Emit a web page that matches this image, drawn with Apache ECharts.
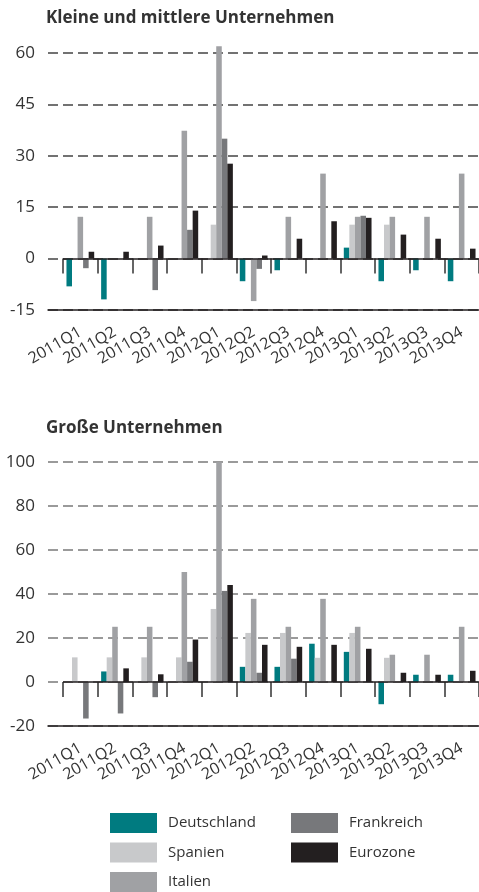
<!DOCTYPE html>
<html lang="de">
  <head>
    <meta charset="UTF-8" />
    <title>Kreditbedingungen</title>
    <style>
      html, body { margin: 0; padding: 0; background: #fff; }
      #chart { width: 479px; height: 892px; }
    </style>
  </head>
  <body>
    <div id="chart"></div>

    <script src="https://cdn.jsdelivr.net/npm/echarts@6/dist/echarts.min.js"></script>
    <script>
      const quarters = ["2011Q1", "2011Q2", "2011Q3", "2011Q4", "2012Q1", "2012Q2",
        "2012Q3", "2012Q4", "2013Q1", "2013Q2", "2013Q3", "2013Q4"];
      const countries = ["Deutschland", "Spanien", "Italien", "Frankreich", "Eurozone"];
      const colors = ["#007b80", "#c8c9cb", "#a0a1a4", "#77787b", "#231f20"];

      // Kleine und mittlere Unternehmen
      const deKmu = [-8.1, -11.9, 0, 0, 0, -6.6, -3.4, 0, 3.2, -6.6, -3.4, -6.6];
      const esKmu = [0, 0, 0, 0, 9.9, 0, 0, 0, 9.9, 9.9, 0, 0];
      const itKmu = [12.2, 0, 12.2, 37.3, 62.0, -12.4, 12.2, 24.8, 12.2, 12.2, 12.2, 24.8];
      const frKmu = [-2.8, 0, -9.2, 8.4, 35.0, -3.0, 0, 0, 12.5, 0, 0, 0];
      const euKmu = [2.0, 2.0, 3.8, 14.0, 27.7, 0.9, 5.8, 10.9, 11.9, 7.0, 5.8, 2.9];

      // Große Unternehmen
      const deGross = [0, 4.8, 0, 0, 0, 6.9, 6.9, 17.4, 13.7, -10.1, 3.3, 3.3];
      const esGross = [11.2, 11.2, 11.2, 11.2, 33.2, 22.3, 22.3, 11.0, 22.3, 11.0, 0, 0];
      const itGross = [0, 25.1, 25.1, 50.0, 100, 37.8, 25.1, 37.8, 25.1, 12.4, 12.4, 25.1];
      const frGross = [-16.6, -14.3, -6.9, 9.2, 41.4, 4.2, 10.6, 0, 0, 0, 0, 0];
      const euGross = [0, 6.2, 3.5, 19.3, 44.1, 16.9, 16.0, 16.9, 15.1, 4.2, 3.3, 5.1];

      const kmuTicks = { min: -15, max: 60, interval: 15 };
      const grossTicks = { min: -20, max: 100, interval: 20 };

      const font = "'Open Sans', sans-serif";
      const textColor = "#333";

      // background axis with the dashed lines, starting a bit left of the bars
      function backX(gridIndex) {
        return {
          gridIndex: gridIndex, type: "value", min: 0, max: 1,
          axisLine: { show: true, onZero: false, lineStyle: { color: "#231f20", width: 1.5 } },
          axisTick: { show: false }, axisLabel: { show: false }, splitLine: { show: false }
        };
      }
      function backY(gridIndex, ticks, dashColor) {
        return {
          gridIndex: gridIndex, type: "value",
          min: ticks.min, max: ticks.max, interval: ticks.interval,
          axisLine: { show: false }, axisTick: { show: false },
          axisLabel: { color: textColor, fontSize: 17, fontFamily: font, margin: 13 },
          splitLine: { lineStyle: { color: dashColor, width: 1.5, type: [10, 5] } }
        };
      }
      function barX(gridIndex) {
        return {
          gridIndex: gridIndex, type: "category", data: quarters,
          axisLine: { show: false },
          axisTick: { show: true, length: 15, lineStyle: { color: "#333", width: 1.5 } },
          axisLabel: { rotate: 30, interval: 0, margin: 21, color: textColor,
            fontSize: 16, fontFamily: font }
        };
      }
      function barY(gridIndex, ticks) {
        return { gridIndex: gridIndex, type: "value", show: false,
          min: ticks.min, max: ticks.max, interval: ticks.interval, splitLine: { show: false } };
      }

      const zeroLine = {
        silent: true, symbol: ["none", "none"], label: { show: false },
        lineStyle: { color: "#231f20", width: 1.5, type: "solid" },
        data: [{ yAxis: 0 }]
      };

      function makeSeries(values, axisIndex) {
        return values.map((data, i) => ({
          name: countries[i], type: "bar",
          xAxisIndex: axisIndex, yAxisIndex: axisIndex,
          data: data, barGap: "0%", barCategoryGap: "20%", clip: false,
          itemStyle: { color: colors[i] },
          markLine: i === 0 ? zeroLine : undefined
        }));
      }

      const series = [].concat(
        makeSeries([deKmu, esKmu, itKmu, frKmu, euKmu], 1),
        makeSeries([deGross, esGross, itGross, frGross, euGross], 3)
      );

      const legendStyle = {
        orient: "vertical", itemWidth: 47, itemHeight: 20, itemGap: 9.5, icon: "rect",
        padding: 0, height: 80, selectedMode: false,
        textStyle: { color: textColor, fontSize: 15, fontFamily: font, padding: [2, 0, 0, 6] }
      };

      const chart = echarts.init(document.getElementById("chart"));
      chart.setOption({
        animation: false,
        color: colors,
        title: [
          { text: "Kleine und mittlere Unternehmen", left: 41, top: 5,
            textStyle: { fontSize: 17, fontWeight: "bold", color: textColor, fontFamily: font } },
          { text: "Große Unternehmen", left: 41, top: 415,
            textStyle: { fontSize: 17, fontWeight: "bold", color: textColor, fontFamily: font } }
        ],
        legend: [
          Object.assign({ left: 110, top: 813, data: countries.slice(0, 3) }, legendStyle),
          Object.assign({ left: 291, top: 813, data: countries.slice(3) }, legendStyle)
        ],
        grid: [
          { left: 48, right: 0, top: 53, height: 257 },
          { left: 63, right: 0, top: 53, height: 257 },
          { left: 48, right: 0, top: 462, height: 264 },
          { left: 63, right: 0, top: 462, height: 264 }
        ],
        xAxis: [backX(0), barX(1), backX(2), barX(3)],
        yAxis: [backY(0, kmuTicks, "#444"), barY(1, kmuTicks), backY(2, grossTicks, "#7a7a7a"), barY(3, grossTicks)],
        series: series
      });
    </script>
  </body>
</html>
